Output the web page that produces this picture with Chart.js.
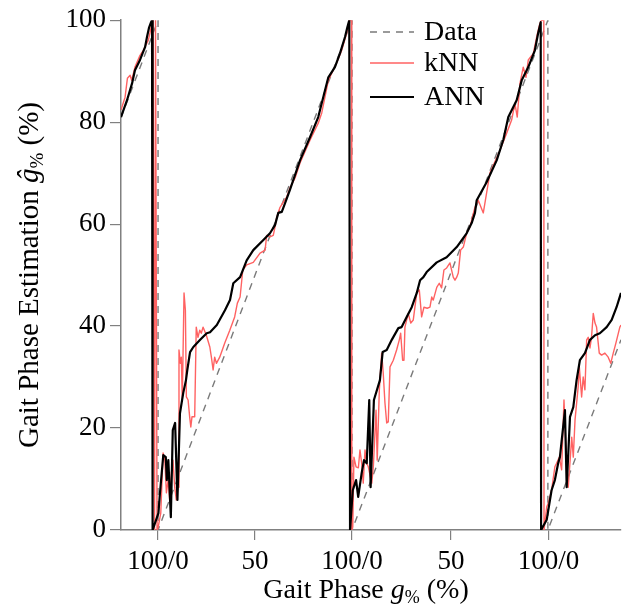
<!DOCTYPE html>
<html>
<head>
<meta charset="utf-8">
<script src="https://cdn.jsdelivr.net/npm/chart.js@4"></script>
<style>
  html, body { margin: 0; padding: 0; background: #fff; }
  #wrap { width: 622px; height: 608px; }
</style>
</head>
<body>
<div id="wrap"><canvas id="gaitChart"></canvas></div>
<script>
// time axis in % of the first stride; drops mark heel strikes
const tickValues = [0, 50, 100, 151, 201.3];
const tickLabels = ['100/0', '50', '100/0', '50', '100/0'];

const dataPoints = [
    [-19.1, 80.9], [0, 100], [0, 0], [100, 100], [100, 0],
    [201, 100], [201, 0], [238.7, 37.3]
];

const knnPoints = [
    [-19.1, 82.4], [-17.0, 84.9], [-15.8, 88.6], [-14.4, 89.2], [-13.6, 88.2],
    [-11.9, 90.8], [-9.3, 93.1], [-7.6, 94.1], [-5.0, 96.1], [-4.1, 97.6],
    [-3.1, 99.6], [-2.6, 100], [-1.8, 0], [-1.3, 100], [-0.5, 0],
    [0, 0.4], [1.4, 3.3], [2.6, 15.1], [3.5, 13.7], [4.3, 7.3], [5.2, 9.8],
    [6.0, 5.9], [6.9, 11.2], [7.7, 13.7], [8.6, 8.4], [9.4, 5.9], [10.3, 8.4],
    [10.8, 35.3], [11.5, 32.7], [12.0, 33.9], [12.5, 25.5], [13.4, 46.5],
    [14.1, 43.1], [14.6, 26.1], [15.5, 25.5], [16.3, 22.2], [16.9, 20.2],
    [17.5, 22.2], [18.9, 22.2], [19.7, 39.8], [20.6, 37.8], [21.5, 39.2],
    [22.3, 38.6], [23.2, 39.8], [24.9, 38.2], [26.7, 35.9], [27.5, 33.9],
    [28.4, 31.4], [29.2, 33.9], [30.1, 32.7], [31.8, 33.9], [34.4, 36.7],
    [37.0, 39.2], [39.5, 41.8], [40.9, 44.5], [42.3, 45.7], [43.7, 51.0],
    [45.7, 52.0], [49.1, 52.5], [52.6, 54.3], [55.2, 54.9], [56.0, 57.8],
    [57.7, 57.5], [59.4, 57.8], [60.3, 59.4], [61.2, 61.4], [62.9, 63.3],
    [64.6, 64.3], [66.3, 65.3], [68.0, 67.1], [70.6, 69.0], [73.2, 72.0],
    [78.4, 76.5], [82.6, 79.8], [84.4, 81.8], [87.8, 88.2], [92.1, 91.6],
    [94.7, 94.1], [97.3, 97.5], [98.6, 100], [99.7, 100], [99.9, 0],
    [100.4, 0.6], [101.0, 14.3], [102.1, 12.4], [103.3, 12.2], [104.1, 15.7],
    [105.0, 13.1], [105.8, 9.2], [106.7, 15.7], [107.6, 13.1], [108.4, 12.4],
    [110.2, 9.2], [111.0, 12.4], [112.4, 23.5], [113.0, 13.7], [114.1, 27.5],
    [115.3, 34.7], [116.1, 30.8], [117.0, 24.9], [117.9, 21.0], [118.7, 21.2],
    [119.6, 32.0], [121.3, 33.3], [123.0, 35.3], [124.4, 37.3], [125.1, 38.6],
    [126.1, 33.3], [126.8, 33.3], [127.3, 39.8], [129.0, 42.5], [130.3, 40.6],
    [131.6, 41.2], [133.4, 46.5], [134.7, 47.1], [135.9, 41.8], [137.1, 43.7],
    [138.8, 43.5], [140.2, 43.7], [141.1, 45.7], [141.9, 45.1], [143.7, 47.6],
    [145.0, 48.4], [146.2, 47.5], [147.4, 51.0], [148.8, 51.4], [150.5, 52.4],
    [152.2, 49.6], [153.1, 49.0], [154.0, 49.6], [154.8, 50.4], [156.0, 54.9],
    [157.4, 55.5], [159.1, 58.2], [160.8, 59.4], [161.7, 60.8], [163.4, 63.3],
    [165.1, 64.7], [167.7, 62.2], [171.1, 70.0], [176.3, 74.5], [179.7, 77.8],
    [182.3, 80.4], [184.0, 83.7], [185.2, 81.0], [186.6, 87.6], [188.3, 90.8],
    [189.7, 88.8], [190.9, 92.2], [193.5, 93.5], [195.2, 96.7], [196.9, 99.4],
    [197.8, 100], [198.9, 100], [199.0, 0],
    [200.4, 4.5], [201.2, 5.3], [202.9, 7.8], [204.6, 12.4], [205.5, 13.1],
    [206.9, 14.3], [208.1, 11.8], [209.3, 25.5], [210.3, 16.3], [211.5, 8.4],
    [213.3, 18.2], [214.1, 14.3], [215.0, 21.6], [216.6, 28.0], [217.2, 32.0],
    [218.4, 26.1], [219.2, 30.0], [220.1, 27.5], [221.0, 37.3], [221.8, 37.8],
    [222.7, 35.7], [223.5, 37.8], [224.4, 42.5], [225.3, 40.6], [226.1, 39.8],
    [227.5, 34.7], [228.7, 34.3], [230.4, 34.7], [232.1, 33.9], [233.4, 32.7],
    [234.7, 34.7], [236.1, 36.7], [238.1, 39.8], [238.7, 40.2]
];

const annPoints = [
    [-19.1, 81.0], [-16.0, 84.3], [-13.4, 87.6], [-11.9, 90.2], [-9.3, 92.2],
    [-6.7, 94.7], [-5.7, 96.7], [-4.6, 98.6], [-3.6, 99.6], [-3.1, 100],
    [-2.8, 0], [0.2, 3.3], [1.0, 7.3], [2.7, 14.7], [4.0, 14.3], [4.5, 9.8],
    [5.3, 13.7], [6.6, 2.5], [7.6, 19.6], [8.8, 21.0], [10.0, 5.9], [11.3, 22.9],
    [13.0, 26.9], [14.4, 29.4], [15.1, 31.4], [16.5, 34.9], [18.2, 35.9],
    [21.7, 37.3], [25.1, 38.6], [26.8, 38.8], [30.3, 40.2], [34.5, 43.1],
    [37.1, 45.1], [38.8, 48.4], [42.3, 49.6], [45.7, 52.9], [49.1, 54.9],
    [54.3, 56.9], [57.7, 58.2], [60.3, 59.8], [62.0, 62.2], [63.8, 62.4],
    [65.5, 64.1], [68.0, 66.7], [73.2, 72.5], [78.4, 77.1], [82.6, 81.0],
    [87.8, 88.8], [91.2, 90.8], [93.8, 93.5], [96.4, 96.7], [97.6, 98.6],
    [98.6, 100], [99.0, 0],
    [100.4, 7.8], [102.1, 9.8], [103.2, 6.5], [105.0, 11.2], [106.2, 13.7],
    [107.6, 13.1], [108.9, 25.5], [109.6, 8.4], [111.3, 25.5], [114.4, 29.4],
    [115.8, 34.9], [117.9, 35.3], [120.5, 37.3], [123.9, 39.6], [125.6, 39.8],
    [128.2, 41.8], [130.8, 43.7], [133.4, 46.5], [135.1, 49.0], [136.8, 49.6],
    [138.5, 50.6], [143.7, 52.5], [148.8, 53.5], [154.0, 55.5], [159.1, 58.2],
    [161.7, 60.2], [163.4, 62.2], [164.3, 64.7], [169.4, 68.2], [174.6, 72.5],
    [178.0, 76.5], [180.6, 81.0], [184.9, 84.3], [187.5, 88.2], [190.9, 90.8],
    [194.3, 94.1], [196.0, 97.5], [197.3, 99.6], [197.5, 0],
    [200.4, 2.0], [202.9, 7.8], [204.6, 9.8], [206.3, 13.1], [207.2, 14.3],
    [209.8, 23.5], [210.7, 8.4], [212.4, 22.2], [214.1, 24.1], [215.8, 29.4],
    [217.5, 33.3], [220.1, 34.7], [222.7, 37.3], [225.3, 38.2], [227.8, 38.6],
    [231.3, 39.8], [233.9, 41.2], [236.4, 43.7], [238.7, 46.5]
];

const FONT = '"Liberation Serif", "Times New Roman", serif';
const AXIS_GRAY = '#808080';

function toXY(pts) {
    return pts.map(p => ({ x: p[0], y: p[1] }));
}

// draws a run of text pieces with their own fonts, centred on (0,0)
function drawRich(ctx, parts) {
    let total = 0;
    parts.forEach(p => { ctx.font = p.font; p.w = ctx.measureText(p.text).width; total += p.w; });
    let x = -total / 2;
    parts.forEach(p => {
        ctx.font = p.font;
        ctx.fillText(p.text, x, p.dy || 0);
        x += p.w;
    });
}

const labelsPlugin = {
    id: 'gaitLabels',
    afterDraw(chart) {
        const ctx = chart.ctx;
        ctx.save();
        ctx.fillStyle = '#000';
        ctx.textBaseline = 'alphabetic';
        ctx.textAlign = 'left';

        // x title
        ctx.save();
        ctx.translate(366, 598);
        drawRich(ctx, [
            { text: 'Gait Phase ', font: '28px ' + FONT },
            { text: 'g', font: 'italic 28px ' + FONT },
            { text: '%', font: '18px ' + FONT, dy: 5 },
            { text: ' (%)', font: '28px ' + FONT }
        ]);
        ctx.restore();

        // y title
        ctx.save();
        ctx.translate(38, 275);
        ctx.rotate(-Math.PI / 2);
        drawRich(ctx, [
            { text: 'Gait Phase Estimation ', font: '29px ' + FONT },
            { text: '\u011D', font: 'italic 29px ' + FONT },
            { text: '%', font: '19px ' + FONT, dy: 5 },
            { text: ' (%)', font: '29px ' + FONT }
        ]);
        ctx.restore();

        // legend
        const rows = [
            { label: 'Data', color: '#7a7a7a', width: 1.4, dash: [7, 6], y: 32 },
            { label: 'kNN', color: '#ff6262', width: 1.4, dash: [], y: 63 },
            { label: 'ANN', color: '#000000', width: 2.2, dash: [], y: 97 }
        ];
        rows.forEach(r => {
            ctx.beginPath();
            ctx.setLineDash(r.dash);
            ctx.strokeStyle = r.color;
            ctx.lineWidth = r.width;
            ctx.moveTo(370, r.y);
            ctx.lineTo(414, r.y);
            ctx.stroke();
            ctx.setLineDash([]);
            ctx.font = '28px ' + FONT;
            ctx.textBaseline = 'middle';
            ctx.fillText(r.label, 424, r.y + 1);
        });
        ctx.restore();
    }
};

new Chart(document.getElementById('gaitChart').getContext('2d'), {
    type: 'line',
    data: {
        datasets: [
            {
                label: 'ANN',
                data: toXY(annPoints),
                borderColor: '#000000',
                borderWidth: 2.2,
                order: 0
            },
            {
                label: 'kNN',
                data: toXY(knnPoints),
                borderColor: '#ff6262',
                borderWidth: 1.4,
                order: 1
            },
            {
                label: 'Data',
                data: toXY(dataPoints),
                borderColor: '#7a7a7a',
                borderWidth: 1.4,
                borderDash: [7, 6],
                order: 2
            }
        ]
    },
    options: {
        responsive: true,
        maintainAspectRatio: false,
        animation: false,
        layout: { padding: { top: 20, right: 1, left: 0, bottom: 0 } },
        elements: {
            point: { radius: 0 },
            line: { tension: 0, borderJoinStyle: 'round' }
        },
        plugins: {
            legend: { display: false },
            tooltip: { enabled: false }
        },
        scales: {
            x: {
                type: 'linear',
                min: -19.1,
                max: 238.7,
                afterBuildTicks: s => { s.ticks = tickValues.map(v => ({ value: v })); },
                afterFit: s => { s.height = 78; },
                ticks: {
                    autoSkip: false,
                    maxRotation: 0,
                    color: '#000',
                    padding: 6,
                    font: { family: FONT, size: 27 },
                    callback: (v, i) => tickLabels[i]
                },
                grid: { drawOnChartArea: false, tickLength: 10, color: AXIS_GRAY, lineWidth: 1.2 },
                border: { color: AXIS_GRAY, width: 1.5 }
            },
            y: {
                min: 0,
                max: 100,
                afterFit: s => { s.width = 121; },
                ticks: {
                    stepSize: 20,
                    color: '#000',
                    padding: 4,
                    font: { family: FONT, size: 27 }
                },
                grid: { drawOnChartArea: false, tickLength: 11, color: AXIS_GRAY, lineWidth: 1.2 },
                border: { color: AXIS_GRAY, width: 1.5 }
            }
        }
    },
    plugins: [labelsPlugin]
});
</script>
</body>
</html>
